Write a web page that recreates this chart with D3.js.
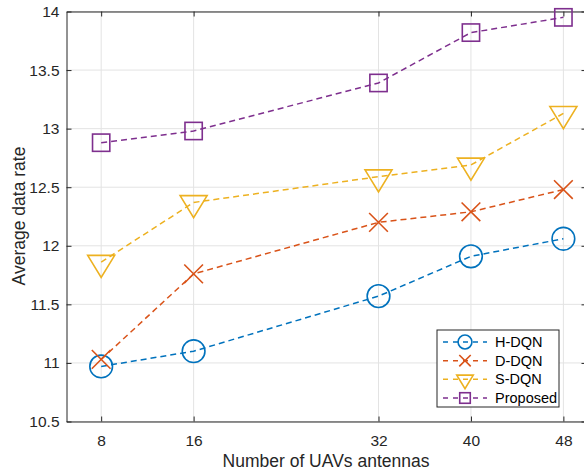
<!DOCTYPE html>
<html lang="en">
<head>
<meta charset="utf-8">
<title>Average data rate vs UAV antennas</title>
<script src="https://cdn.jsdelivr.net/npm/d3@7"></script>
<style>
  body { margin: 0; background: #fff; }
  svg { display: block; font-family: "Liberation Sans", Arial, sans-serif; }
  svg .tick text { font-size: 15.5px; fill: #262626; font-family: "Liberation Sans", Arial, sans-serif; }
  .lbl { font-size: 17.5px; fill: #262626; }
  .leg text { font-size: 14.5px; fill: #000; }
</style>
</head>
<body>
<svg id="chart" width="584" height="476"></svg>
<script>
// data
var antennas = [8, 16, 32, 40, 48];
var hdqn     = [10.97, 11.10, 11.57, 11.91, 12.06];
var ddqn     = [11.03, 11.76, 12.20, 12.29, 12.48];
var sdqn     = [11.86, 12.37, 12.59, 12.69, 13.13];
var proposed = [12.88, 12.98, 13.39, 13.82, 13.95];
var yTicks   = [10.5, 11, 11.5, 12, 12.5, 13, 13.5, 14];

var seriesNames  = ['H-DQN', 'D-DQN', 'S-DQN', 'Proposed'];
var seriesVals   = [hdqn, ddqn, sdqn, proposed];
var seriesColors = ['#0072BD', '#D95319', '#EDB120', '#7E2F8E'];
var seriesMarks  = ['circle', 'cross', 'tri', 'square'];

var svg = d3.select('#chart');
var pLeft = 66.5, pRight = 586.5, pTop = 11.5, pBottom = 421.5;

var x = d3.scaleLinear().domain([5, 50]).range([pLeft, pRight]);
var y = d3.scaleLinear().domain([10.5, 14]).range([pBottom, pTop]);

// grid
var grid = svg.append('g').attr('stroke', '#e3e3e3').attr('stroke-width', 1);
grid.selectAll('.gx').data(antennas).enter().append('line')
  .attr('x1', d => x(d)).attr('x2', d => x(d)).attr('y1', pTop).attr('y2', pBottom);
grid.selectAll('.gy').data(yTicks).enter().append('line')
  .attr('y1', d => y(d)).attr('y2', d => y(d)).attr('x1', pLeft).attr('x2', pRight);

// axes, ticks inward, box on
function styleAxis(g) {
  g.attr('font-size', null).attr('font-family', null);
  g.select('.domain').attr('stroke', '#262626');
  g.selectAll('.tick line').attr('stroke', '#262626');
}
svg.append('g').attr('transform', 'translate(0,' + pBottom + ')')
  .call(d3.axisBottom(x).tickValues(antennas).tickSizeInner(-5).tickSizeOuter(0).tickPadding(13))
  .call(styleAxis);
svg.append('g').attr('transform', 'translate(0,' + pTop + ')')
  .call(d3.axisTop(x).tickValues(antennas).tickSizeInner(-5).tickSizeOuter(0).tickFormat(''))
  .call(styleAxis);
svg.append('g').attr('transform', 'translate(' + pLeft + ',0)')
  .call(d3.axisLeft(y).tickValues(yTicks).tickSizeInner(-5).tickSizeOuter(0).tickPadding(7).tickFormat(d3.format('')))
  .call(styleAxis);
svg.append('g').attr('transform', 'translate(' + pRight + ',0)')
  .call(d3.axisRight(y).tickValues(yTicks).tickSizeInner(-5).tickSizeOuter(0).tickFormat(''))
  .call(styleAxis);

// marker drawing
function drawMarker(g, type, color, cx, cy, s) {
  if (type === 'circle') {
    g.append('circle').attr('cx', cx).attr('cy', cy).attr('r', s * 0.63)
      .attr('fill', 'none').attr('stroke', color).attr('stroke-width', 1.6);
  } else if (type === 'square') {
    var h = s * 0.48;
    g.append('rect').attr('x', cx - h).attr('y', cy - h).attr('width', 2 * h).attr('height', 2 * h)
      .attr('fill', 'none').attr('stroke', color).attr('stroke-width', 1.6);
  } else if (type === 'cross') {
    var c = s * 0.52;
    g.append('path').attr('d', 'M' + (cx - c) + ',' + (cy - c) + 'L' + (cx + c) + ',' + (cy + c) +
      'M' + (cx - c) + ',' + (cy + c) + 'L' + (cx + c) + ',' + (cy - c))
      .attr('fill', 'none').attr('stroke', color).attr('stroke-width', 1.6);
  } else {
    var w = s * 0.75, t = s * 0.38, b = s * 0.85;
    g.append('path').attr('d', 'M' + (cx - w) + ',' + (cy - t) + 'L' + (cx + w) + ',' + (cy - t) +
      'L' + cx + ',' + (cy + b) + 'Z')
      .attr('fill', 'none').attr('stroke', color).attr('stroke-width', 1.6);
  }
}

var line = d3.line().x((d, i) => x(antennas[i])).y(d => y(d));

seriesVals.forEach(function (vals, k) {
  var g = svg.append('g');
  g.append('path').datum(vals).attr('d', line)
    .attr('fill', 'none').attr('stroke', seriesColors[k]).attr('stroke-width', 1.5)
    .attr('stroke-dasharray', '6,4');
  vals.forEach(function (v, i) {
    drawMarker(g, seriesMarks[k], seriesColors[k], x(antennas[i]), y(v), 18);
  });
});

// labels
svg.append('text').attr('class', 'lbl').attr('x', 326).attr('y', 467)
  .attr('text-anchor', 'middle').text('Number of UAVs antennas');
svg.append('text').attr('class', 'lbl').attr('transform', 'translate(25,216) rotate(-90)')
  .attr('text-anchor', 'middle').text('Average data rate');

// legend
var leg = svg.append('g').attr('class', 'leg');
leg.append('rect').attr('x', 437).attr('y', 330).attr('width', 122).attr('height', 77)
  .attr('fill', '#fff').attr('stroke', '#262626').attr('stroke-width', 1);
var legY = d3.scalePoint().domain(seriesNames).range([342, 398]);
seriesNames.forEach(function (name, k) {
  var yy = legY(name);
  leg.append('line').attr('x1', 443).attr('x2', 487).attr('y1', yy).attr('y2', yy)
    .attr('stroke', seriesColors[k]).attr('stroke-width', 1.5).attr('stroke-dasharray', '5,5');
  drawMarker(leg, seriesMarks[k], seriesColors[k], 465, yy, 11);
  leg.append('text').attr('x', 495).attr('y', yy + 5).text(name);
});
</script>
</body>
</html>
